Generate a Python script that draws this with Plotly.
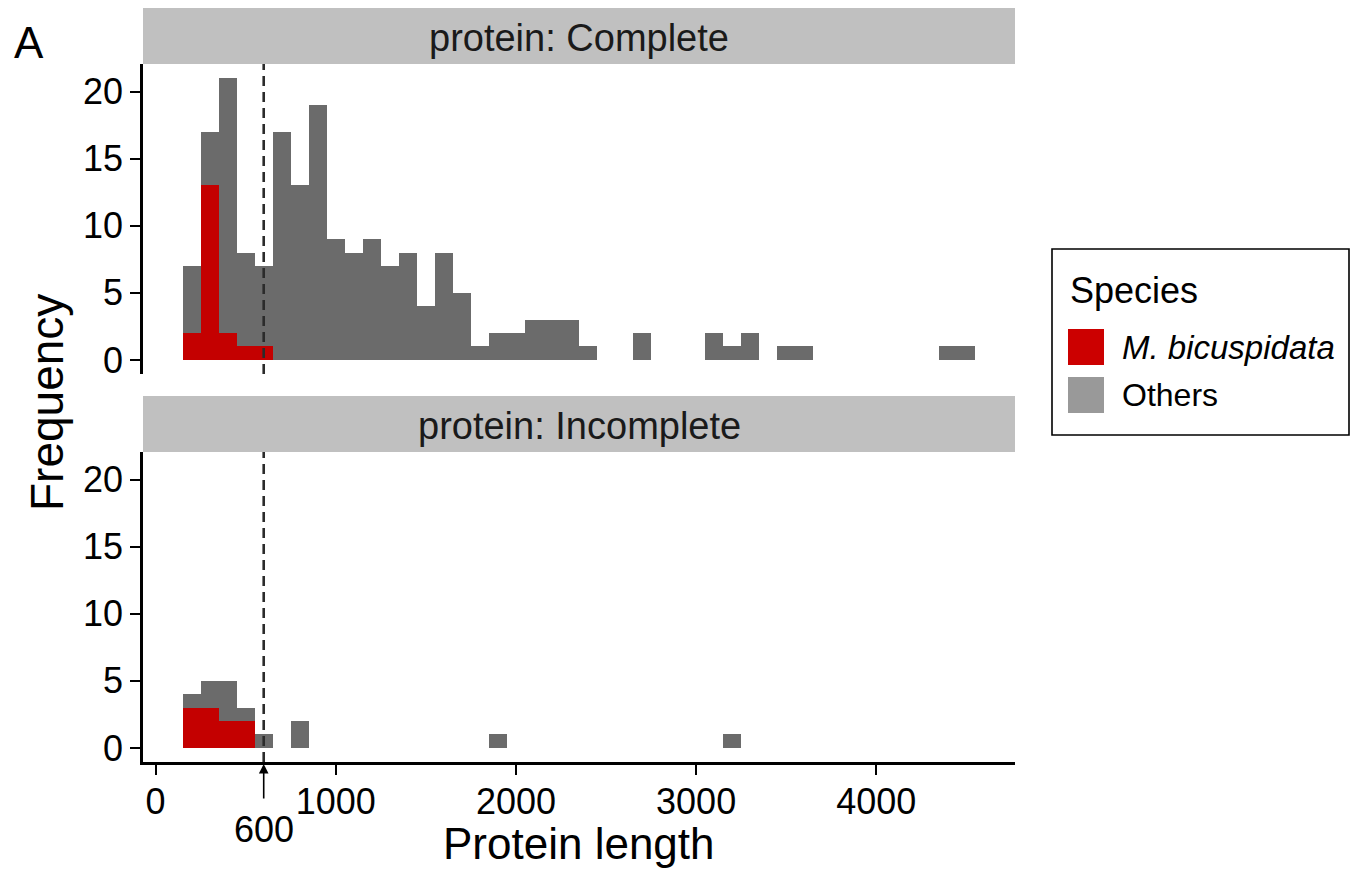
import plotly.graph_objects as go

# ---------------- data ----------------
bin_width = 100
bin_centers = [200 + 100 * i for i in range(44)]  # 200 ... 4500

complete_total = [7, 17, 21, 8, 7, 17, 13, 19, 9, 8, 9, 7, 8, 4, 8, 5, 1, 2, 2, 3, 3, 3,
                  1, 0, 0, 2, 0, 0, 0, 2, 1, 2, 0, 1, 1, 0, 0, 0, 0, 0, 0, 0, 1, 1]
complete_mbic = [2, 13, 2, 1, 1] + [0] * 39

incomplete_total = [4, 5, 5, 3, 1, 0, 2, 0, 0, 0, 0, 0, 0, 0, 0, 0, 0, 1, 0, 0, 0, 0,
                    0, 0, 0, 0, 0, 0, 0, 0, 1, 0, 0, 0, 0, 0, 0, 0, 0, 0, 0, 0, 0, 0]
incomplete_mbic = [3, 3, 2, 2] + [0] * 40

species = ["M. bicuspidata", "Others"]
panels = ["protein: Complete", "protein: Incomplete"]
x_ticks = [0, 1000, 2000, 3000, 4000]
y_ticks = [0, 5, 10, 15, 20]
cutoff = 600

complete_others = [t - m for t, m in zip(complete_total, complete_mbic)]
incomplete_others = [t - m for t, m in zip(incomplete_total, incomplete_mbic)]

# ---------------- styling ----------------
RED_BAR = "#c40000"
GRAY_BAR = "#6b6b6b"
RED_KEY = "#cc0000"
GRAY_KEY = "#999999"
FONT = "Liberation Sans, Arial, sans-serif"

W, H = 1354, 869
L, R, T, B = 143, 339, 8, 107
PW, PH = W - L - R, H - T - B


def px(xp):
    return (xp - L) / PW


def py(yp):
    return (H - B - yp) / PH


fig = go.Figure()

def add_bars(xa, ya, mbic, others):
    fig.add_trace(go.Bar(x=bin_centers, y=mbic, width=bin_width, name=species[0],
                         marker=dict(color=RED_BAR, line=dict(width=0)),
                         xaxis=xa, yaxis=ya, showlegend=False))
    fig.add_trace(go.Bar(x=bin_centers, y=others, width=bin_width, name=species[1],
                         marker=dict(color=GRAY_BAR, line=dict(width=0)),
                         xaxis=xa, yaxis=ya, showlegend=False))

add_bars("x2", "y", complete_mbic, complete_others)
add_bars("x", "y2", incomplete_mbic, incomplete_others)

top_dom = [py(374), py(64)]
bot_dom = [0, py(452)]

tickfont = dict(family=FONT, size=36, color="#000000")
xrange = [-70, 4770]
yrange = [-1.05, 22.05]

yax = dict(range=yrange, tickvals=y_ticks, automargin=False,
           showline=True, linecolor="black", linewidth=2.5,
           ticks="outside", ticklen=10, tickwidth=2.2, tickcolor="black",
           tickfont=tickfont, showgrid=False, zeroline=False)

fig.update_layout(
    width=W, height=H,
    margin=dict(l=L, r=R, t=T, b=B, autoexpand=False),
    paper_bgcolor="white", plot_bgcolor="white",
    barmode="stack", bargap=0,
    showlegend=False,
    xaxis=dict(domain=[0, 1], anchor="y2", range=xrange, tickvals=x_ticks, automargin=False,
               showline=True, linecolor="black", linewidth=2.5,
               ticks="outside", ticklen=10, tickwidth=2.2, tickcolor="black",
               ticklabelstandoff=-4,
               tickfont=tickfont, showgrid=False, zeroline=False),
    xaxis2=dict(domain=[0, 1], anchor="y", matches="x", range=xrange, automargin=False,
                showline=False, ticks="", showticklabels=False, showgrid=False, zeroline=False),
    yaxis=dict(domain=top_dom, anchor="x2", **yax),
    yaxis2=dict(domain=bot_dom, anchor="x", **yax),
)

shapes = []
# facet strips
for (y0, y1) in [(8, 64), (396, 452)]:
    shapes.append(dict(type="rect", xref="paper", yref="paper", x0=0, x1=1,
                       y0=py(y1), y1=py(y0), fillcolor="#c0c0c0", line=dict(width=0),
                       layer="below"))
# cutoff dashed lines
for yref in ["y domain", "y2 domain"]:
    shapes.append(dict(type="line", xref="x", yref=yref, x0=cutoff, x1=cutoff, y0=0, y1=1,
                       line=dict(color="#2b2b2b", width=2.6, dash="10px,6px")))
# legend box
shapes.append(dict(type="rect", xref="paper", yref="paper", x0=px(1052), x1=px(1349),
                   y0=py(435), y1=py(249), line=dict(color="black", width=1.6),
                   fillcolor="white"))
shapes.append(dict(type="rect", xref="paper", yref="paper", x0=px(1068), x1=px(1104),
                   y0=py(365), y1=py(329), line=dict(width=0), fillcolor=RED_KEY))
shapes.append(dict(type="rect", xref="paper", yref="paper", x0=px(1068), x1=px(1104),
                   y0=py(413), y1=py(377), line=dict(width=0), fillcolor=GRAY_KEY))
fig.update_layout(shapes=shapes)


def label(text, x, y, size, xanchor="center", angle=0, xref="paper", color="black"):
    return dict(text=text, xref=xref, yref="paper", x=x, y=y, xanchor=xanchor,
                yanchor="middle", textangle=angle, showarrow=False,
                font=dict(family=FONT, size=size, color=color))


ann = []
# strip labels
ann.append(label(panels[0], 0.5, py(38), 38, color="#1a1a1a"))
ann.append(label(panels[1], 0.5, py(426), 38, color="#1a1a1a"))
# axis titles
ann.append(label("Protein length", 0.5, py(843), 44))
ann.append(label("Frequency", px(47), py(403), 46, angle=-90))
# panel letter
ann.append(label("A", px(29), py(42), 44))
# 600 arrow + label
ann.append(dict(text="", x=cutoff, xref="x", y=py(764), yref="paper",
                ax=0, ay=36, showarrow=True, arrowhead=2, arrowsize=1.2,
                arrowwidth=1.6, arrowcolor="black"))
ann.append(label(str(cutoff), cutoff, py(829), 36, xref="x"))
# legend texts
ann.append(label("Species", px(1068), py(290), 36, xanchor="left"))
ann.append(label("<i>M. bicuspidata</i>", px(1120), py(347), 33, xanchor="left"))
ann.append(label("Others", px(1120), py(395), 32, xanchor="left"))
fig.update_layout(annotations=ann)

fig.write_html("out.html", config={"displayModeBar": False},
               post_script="document.body.style.margin='0px';")
